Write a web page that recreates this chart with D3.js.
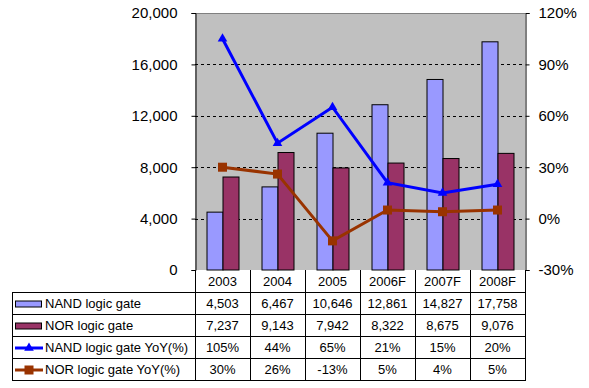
<!DOCTYPE html>
<html>
<head>
<meta charset="utf-8">
<script src="https://cdn.jsdelivr.net/npm/d3@7"></script>
<style>
  body { margin: 0; background: #fff; }
  text { font-family: "Liberation Sans", Arial, sans-serif; fill: #000; }
</style>
</head>
<body>
<script>
// data

const years = ["2003", "2004", "2005", "2006F", "2007F", "2008F"];
const nand = [4503, 6467, 10646, 12861, 14827, 17758];
const nor = [7237, 9143, 7942, 8322, 8675, 9076];
const nandYoY = [105, 44, 65, 21, 15, 20];
const norYoY = [30, 26, -13, 5, 4, 5];
const leftTicks = [0, 4000, 8000, 12000, 16000, 20000];
const rightTicks = [-30, 0, 30, 60, 90, 120];

const seriesNames = ["NAND logic gate", "NOR logic gate", "NAND logic gate YoY(%)", "NOR logic gate YoY(%)"];
const tableRows = [nand, nor, nandYoY, norYoY];

// layout

const w = 589, h = 388;
const m = { top: 13, right: 64, bottom: 118, left: 195 };
const tableLeft = 12;
const rowH = 22;

const svg = d3.select("body").append("svg")
  .attr("width", w)
  .attr("height", h);

const x = d3.scaleBand()
  .domain(years)
  .range([m.left, w - m.right]);
const y = d3.scaleLinear()
  .domain([0, 20000])
  .range([h - m.bottom, m.top]);
const y2 = d3.scaleLinear()
  .domain([-30, 120])
  .range([h - m.bottom, m.top]);

const plotBottom = h - m.bottom;
const barW = 16;

// plot background
svg.append("rect")
  .attr("x", m.left)
  .attr("y", m.top)
  .attr("width", w - m.right - m.left)
  .attr("height", plotBottom - m.top)
  .attr("fill", "#c0c0c0");

// grid
svg.append("g").selectAll("line")
  .data(leftTicks.slice(1, -1))
  .enter().append("line")
  .attr("x1", m.left).attr("x2", w - m.right)
  .attr("y1", d => Math.round(y(d)) + 0.5).attr("y2", d => Math.round(y(d)) + 0.5)
  .attr("stroke", "#000")
  .attr("stroke-dasharray", "3,3");

// top border
svg.append("line")
  .attr("x1", m.left).attr("x2", w - m.right)
  .attr("y1", m.top + 0.5).attr("y2", m.top + 0.5)
  .attr("stroke", "#808080");

// bars
svg.append("g").selectAll("rect")
  .data(nand)
  .enter().append("rect")
  .attr("x", (d, i) => x(years[i]) + x.bandwidth() / 2 - barW + 0.5)
  .attr("y", d => y(d))
  .attr("width", barW)
  .attr("height", d => plotBottom - y(d))
  .attr("fill", "#9999ff")
  .attr("stroke", "#000");

svg.append("g").selectAll("rect")
  .data(nor)
  .enter().append("rect")
  .attr("x", (d, i) => x(years[i]) + x.bandwidth() / 2 + 0.5)
  .attr("y", d => y(d))
  .attr("width", barW)
  .attr("height", d => plotBottom - y(d))
  .attr("fill", "#993366")
  .attr("stroke", "#000");

// axes
const leftAxis = d3.axisLeft(y).tickValues(leftTicks).tickSize(4).tickFormat(d3.format(","));
const rightAxis = d3.axisRight(y2).tickValues(rightTicks).tickSize(4).tickFormat(d => d + "%");

const gl = svg.append("g")
  .attr("transform", "translate(" + (m.left + 0.5) + ",0)")
  .call(leftAxis);
gl.selectAll("text").attr("x", -18).style("font-size", "15px").attr("font-family", null);
gl.select(".domain").attr("stroke", "#000");

const gr = svg.append("g")
  .attr("transform", "translate(" + (w - m.right + 0.5) + ",0)")
  .call(rightAxis);
gr.selectAll("text").attr("x", 13).style("font-size", "15px").attr("font-family", null);
gr.select(".domain").attr("stroke", "#000");

// lines
const line = d3.line()
  .x((d, i) => x(years[i]) + x.bandwidth() / 2);

svg.append("path")
  .datum(nandYoY)
  .attr("d", line.y(d => y2(d)))
  .attr("fill", "none")
  .attr("stroke", "#0000ff")
  .attr("stroke-width", 3);

svg.append("g").selectAll("path")
  .data(nandYoY)
  .enter().append("path")
  .attr("transform", (d, i) => "translate(" + (x(years[i]) + x.bandwidth() / 2) + "," + y2(d) + ")")
  .attr("d", d3.symbol().type(d3.symbolTriangle).size(40))
  .attr("fill", "#0000ff");

svg.append("path")
  .datum(norYoY)
  .attr("d", line.y(d => y2(d)))
  .attr("fill", "none")
  .attr("stroke", "#993300")
  .attr("stroke-width", 3);

svg.append("g").selectAll("rect")
  .data(norYoY)
  .enter().append("rect")
  .attr("x", (d, i) => x(years[i]) + x.bandwidth() / 2 - 4.5)
  .attr("y", d => y2(d) - 4.5)
  .attr("width", 9)
  .attr("height", 9)
  .attr("fill", "#993300");

// data table
const table = svg.append("g");
const tableTop = plotBottom + rowH;
const tableBottom = tableTop + rowH * tableRows.length;
const right = w - m.right + 0.5;

// header labels
table.selectAll(".hdr")
  .data(years)
  .enter().append("text")
  .attr("class", "hdr")
  .attr("x", d => x(d) + x.bandwidth() / 2)
  .attr("y", plotBottom + rowH / 2 + 5)
  .attr("text-anchor", "middle")
  .style("font-size", "13px")
  .text(d => d);

// horizontal rules
d3.range(tableRows.length + 1).forEach(r => {
  table.append("line")
    .attr("x1", tableLeft + 0.5).attr("x2", right)
    .attr("y1", tableTop + r * rowH + 0.5).attr("y2", tableTop + r * rowH + 0.5)
    .attr("stroke", "#000");
});

// vertical rules
table.append("line")
  .attr("x1", tableLeft + 0.5).attr("x2", tableLeft + 0.5)
  .attr("y1", tableTop).attr("y2", tableBottom + 1)
  .attr("stroke", "#000");
years.concat(["end"]).forEach((d, i) => {
  const xx = Math.round(m.left + i * x.bandwidth()) + 0.5;
  table.append("line")
    .attr("x1", xx).attr("x2", xx)
    .attr("y1", plotBottom).attr("y2", tableBottom + 1)
    .attr("stroke", "#000");
});

// cells
const fmtCell = [d3.format(","), d3.format(","), d => d + "%", d => d + "%"];
tableRows.forEach((row, r) => {
  table.selectAll(".row" + r)
    .data(row)
    .enter().append("text")
    .attr("x", (d, i) => x(years[i]) + x.bandwidth() / 2)
    .attr("y", tableTop + r * rowH + rowH / 2 + 5)
    .attr("text-anchor", "middle")
    .style("font-size", "13px")
    .text(d => fmtCell[r](d));

  table.append("text")
    .attr("x", 45)
    .attr("y", tableTop + r * rowH + rowH / 2 + 5)
    .style("font-size", "13px")
    .text(seriesNames[r]);
});

// legend keys
const keyY = (r) => tableTop + r * rowH + rowH / 2 + 1;
table.append("rect").attr("x", 15.5).attr("y", keyY(0) - 3).attr("width", 26).attr("height", 6)
  .attr("fill", "#9999ff").attr("stroke", "#000");
table.append("rect").attr("x", 15.5).attr("y", keyY(1) - 3).attr("width", 26).attr("height", 6)
  .attr("fill", "#993366").attr("stroke", "#000");
table.append("line").attr("x1", 15).attr("x2", 43).attr("y1", keyY(2)).attr("y2", keyY(2))
  .attr("stroke", "#0000ff").attr("stroke-width", 3);
table.append("path").attr("transform", "translate(29," + keyY(2) + ")")
  .attr("d", d3.symbol().type(d3.symbolTriangle).size(40)).attr("fill", "#0000ff");
table.append("line").attr("x1", 15).attr("x2", 43).attr("y1", keyY(3)).attr("y2", keyY(3))
  .attr("stroke", "#993300").attr("stroke-width", 3);
table.append("rect").attr("x", 24.5).attr("y", keyY(3) - 4.5).attr("width", 9).attr("height", 9)
  .attr("fill", "#993300");
</script>
</body>
</html>
